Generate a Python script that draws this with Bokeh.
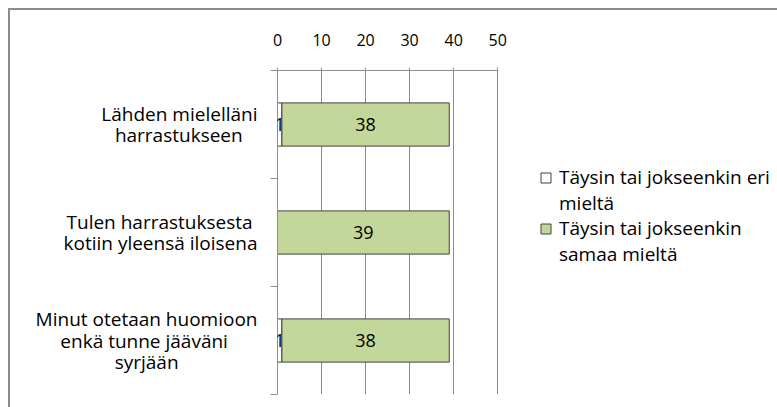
from bokeh.plotting import figure
from bokeh.models import (ColumnDataSource, Range1d, FixedTicker, LinearAxis,
                          LabelSet, Legend, LegendItem)
from bokeh.core.properties import value
from bokeh.embed import file_html
from bokeh.resources import INLINE

# ---- data ----
categories = ["Lähden mielelläni\nharrastukseen",
              "Tulen harrastuksesta\nkotiin yleensä iloisena",
              "Minut otetaan huomioon\nenkä tunne jääväni\nsyrjään"]
disagree = [1, 0, 1]
agree = [38, 39, 38]
series_names = ["Täysin tai jokseenkin eri\nmieltä",
                "Täysin tai jokseenkin\nsamaa mieltä"]
x_ticks = [0, 10, 20, 30, 40, 50]

FONT = "Open Sans"
GRAY = "#8c8c8c"
GREEN = "#c4d79b"
EDGE = "#404040"

# approximate Open Sans advance widths (em) used to centre the lines of a
# right-aligned multi-line tick label
_W = {" ": .26, "a": .556, "ä": .556, "b": .613, "c": .476, "d": .613, "e": .561,
      "h": .614, "i": .253, "j": .253, "k": .525, "l": .253, "m": .93, "n": .614,
      "o": .604, "r": .408, "s": .477, "t": .353, "u": .614, "v": .501, "y": .501,
      "L": .52, "T": .536, "M": .903}
NBSP = "\u00a0"


def centred(label):
    lines = label.split("\n")
    widths = [sum(_W.get(ch, .55) for ch in ln) for ln in lines]
    wmax = max(widths)
    out = []
    for ln, w in zip(lines, widths):
        n = int(round((wmax - w) / 2 / _W[" "]))
        out.append(ln + NBSP * n)
    return "\n".join(out)


ypos = [i + 0.5 for i in range(len(categories))]
left2 = disagree
right2 = [a + b for a, b in zip(disagree, agree)]
src = ColumnDataSource(dict(
    y=ypos,
    l1=[0] * len(disagree), r1=disagree,
    l2=left2, r2=right2,
    d_lab=[str(v) if v else "" for v in disagree],
    a_lab=[str(v) if v else "" for v in agree],
    d_x=[v / 2 for v in disagree],
    a_x=[(l + r) / 2 for l, r in zip(left2, right2)],
))

# the frame also holds the legend area to the right of the value axis
p = figure(width=767, height=397, output_backend="svg", toolbar_location=None,
           x_range=Range1d(0, 114), y_range=Range1d(len(categories), 0),
           x_axis_location=None, y_axis_location=None,
           min_border_left=267, min_border_right=0,
           min_border_top=60, min_border_bottom=15)
p.styles = {"border-top": "2px solid #8c8c8c", "border-left": "2px solid #8c8c8c",
            "box-sizing": "content-box", "margin-left": "8px", "margin-top": "8px"}
p.outline_line_color = None
p.background_fill_color = "white"
p.border_fill_color = "white"

r1 = p.hbar(y="y", left="l1", right="r1", height=0.4, source=src,
            fill_color="white", line_color=EDGE, line_width=1)
r2 = p.hbar(y="y", left="l2", right="r2", height=0.4, source=src,
            fill_color=GREEN, line_color=EDGE, line_width=1)
# hidden, legend-only square swatches of the two series
sw1 = p.scatter(x="d_x", y="y", source=src, marker="square",
                fill_color="white", line_color=EDGE, visible=False)
sw2 = p.scatter(x="a_x", y="y", source=src, marker="square",
                fill_color=GREEN, line_color=EDGE, visible=False)
blank = p.scatter(x="a_x", y="y", source=src, marker="square",
                  fill_alpha=0, line_alpha=0, visible=False)

# top value axis
xa = LinearAxis(ticker=FixedTicker(ticks=x_ticks, minor_ticks=[]),
                bounds=(x_ticks[0], x_ticks[-1]))
xa.axis_line_color = GRAY
xa.major_tick_line_color = GRAY
xa.major_tick_in = 3
xa.major_tick_out = 3
xa.minor_tick_line_color = None
xa.major_label_text_font = FONT
xa.major_label_text_font_size = "16px"
xa.major_label_text_color = "#000000"
xa.major_label_standoff = 22
p.add_layout(xa, "above")

# left category axis
ya = LinearAxis(ticker=FixedTicker(ticks=ypos, minor_ticks=list(range(len(categories) + 1))))
ya.axis_line_color = GRAY
ya.major_tick_line_color = None
ya.major_tick_in = 0
ya.major_tick_out = 0
ya.minor_tick_line_color = GRAY
ya.minor_tick_in = 0
ya.minor_tick_out = 7
ya.major_label_overrides = {y: centred(c) for y, c in zip(ypos, categories)}
ya.major_label_text_font = FONT
ya.major_label_text_font_size = "19px"
ya.major_label_text_color = "#000000"
ya.major_label_text_line_height = 0.82
ya.major_label_standoff = 13
p.add_layout(ya, "left")

p.xgrid.grid_line_color = GRAY
p.xgrid.ticker = FixedTicker(ticks=x_ticks)
p.ygrid.grid_line_color = None

# data labels
for xcol, tcol in (("d_x", "d_lab"), ("a_x", "a_lab")):
    p.add_layout(LabelSet(x=xcol, y="y", text=tcol, source=src,
                          text_align="center", text_baseline="middle",
                          text_font=value(FONT), text_font_size="18px",
                          text_color="#000000"))

# legend: one legend per series, label lines as separate rows
for name, sw, loc in ((series_names[0], sw1, (255, 178)),
                      (series_names[1], sw2, (255, 127))):
    lines = name.split("\n")
    items = [LegendItem(label=lines[0], renderers=[sw])]
    items += [LegendItem(label=ln, renderers=[blank]) for ln in lines[1:]]
    lg = Legend(items=items, location=loc, padding=0, margin=0, spacing=0,
                glyph_width=27, glyph_height=25, label_standoff=-5,
                label_height=21, label_text_line_height=0.8,
                label_text_font=FONT, label_text_font_size="19px",
                label_text_color="#000000", click_policy="none",
                border_line_color=None, background_fill_alpha=0)
    p.add_layout(lg, "center")

open("out.html", "w").write(file_html(p, INLINE))
